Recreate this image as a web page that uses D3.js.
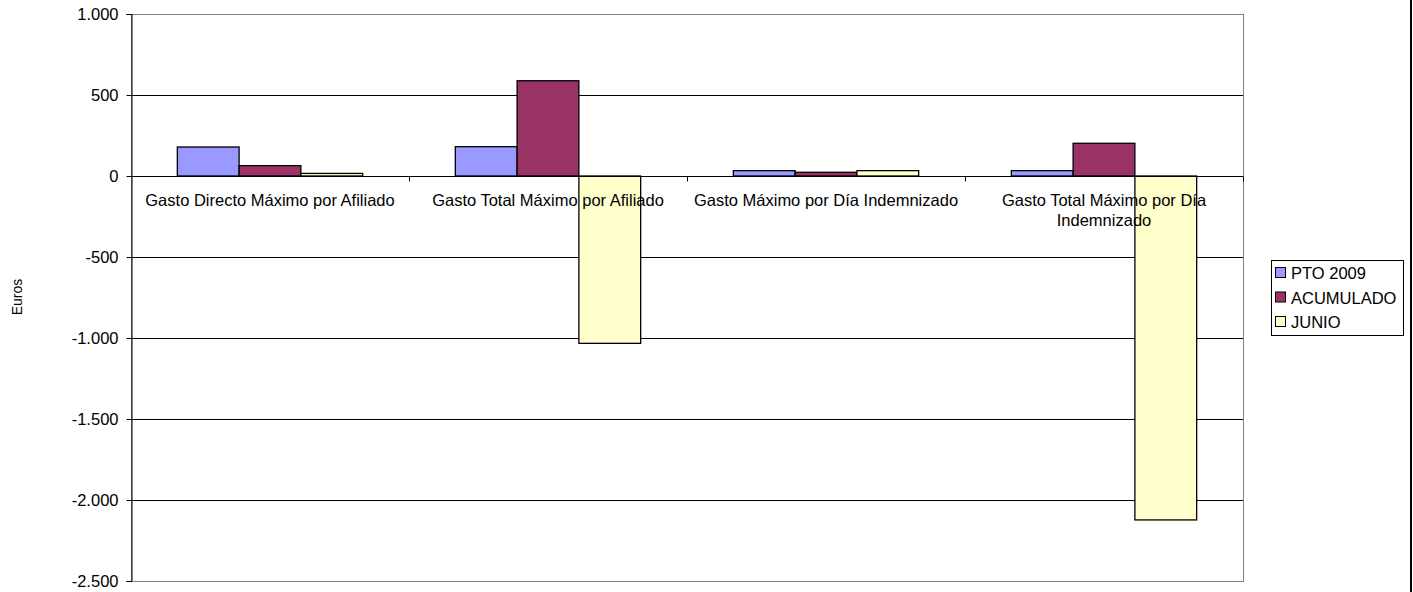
<!DOCTYPE html>
<html><head><meta charset="utf-8">
<script src="https://cdn.jsdelivr.net/npm/d3@7"></script>
<style>body{margin:0;background:#fff}svg{display:block}text{font-family:"Liberation Sans",Arial,sans-serif;fill:#000}</style>
</head><body><svg id="c" width="1413" height="592"></svg>
<script>
const categories = [["Gasto Directo Máximo por Afiliado"],["Gasto Total Máximo por Afiliado"],["Gasto Máximo por Día Indemnizado"],["Gasto Total Máximo por Día","Indemnizado"]];
const seriesNames = ["PTO 2009","ACUMULADO","JUNIO"];
const pto2009 = [179, 181, 33, 33];
const acumulado = [64, 588, 23, 202];
const junio = [16, -1033, 33, -2123];
const yTicks = [1000, 500, 0, -500, -1000, -1500, -2000, -2500];
const colors = ["#9999FF","#993366","#FFFFCC"];
const series = [pto2009, acumulado, junio];

const FONT = "'Liberation Sans', Arial, sans-serif";
const FS = 16.5;
const svg = d3.select("#c");
const L = 131, R = 1243, T = 14, B = 581;
const y = d3.scaleLinear().domain([-2500, 1000]).range([B, T]);
const x0 = d3.scaleBand().domain(d3.range(categories.length)).range([L, R]).paddingInner(0).paddingOuter(0);
const bw = x0.bandwidth() / 4.5;
const loc = d3.formatLocale({decimal: ",", thousands: ".", grouping: [3], currency: ["", "€"], minus: "-"});
const fmt = loc.format(",d");

// gridlines
svg.append("g").selectAll("line").data(yTicks).join("line")
  .attr("x1", L).attr("x2", R).attr("y1", d => Math.round(y(d)) + 0.5).attr("y2", d => Math.round(y(d)) + 0.5)
  .attr("stroke", "#000").attr("stroke-width", 1);

// plot border
svg.append("rect").attr("x", L + 0.5).attr("y", T + 0.5).attr("width", R - L).attr("height", B - T)
  .attr("fill", "none").attr("stroke", "#808080");

// bars
const gb = svg.append("g");
series.forEach((s, si) => {
  gb.selectAll(null).data(s).join("rect")
    .attr("x", (d, i) => x0(i) + bw * 0.75 + si * bw)
    .attr("width", bw)
    .attr("y", d => y(Math.max(0, d)))
    .attr("height", d => Math.abs(y(d) - y(0)))
    .attr("fill", colors[si]).attr("stroke", "#000").attr("stroke-width", 1.3);
});

// y axis
const yAxis = d3.axisLeft(y).tickValues(yTicks).tickFormat(d => fmt(d)).tickSize(5).tickPadding(8);
const ga = svg.append("g").attr("transform", `translate(${L + 0.5},0)`).call(yAxis);
ga.attr("font-family", FONT).attr("font-size", FS);
ga.select(".domain").attr("stroke", "#000");
ga.selectAll(".tick line").attr("stroke", "#000");
ga.selectAll(".tick text").attr("fill", "#000").attr("dy", "0.35em");

// zero axis line & category ticks
const z = Math.round(y(0)) + 0.5;
svg.append("line").attr("x1", L).attr("x2", R).attr("y1", z).attr("y2", z).attr("stroke", "#000");
svg.append("g").selectAll("line").data(d3.range(1, categories.length + 1)).join("line")
  .attr("x1", i => x0.step() * i + L + 0.5).attr("x2", i => x0.step() * i + L + 0.5)
  .attr("y1", z).attr("y2", z + 5).attr("stroke", "#000");

// category labels
const gl = svg.append("g");
categories.forEach((lines, i) => {
  const cx = x0(i) + x0.bandwidth() / 2;
  const t = gl.append("text").attr("text-anchor", "middle").attr("font-size", FS)
    .attr("x", cx).attr("y", 206);
  lines.forEach((ln, k) => t.append("tspan").attr("x", cx).attr("dy", k ? 20 : 0).text(ln));
});

// y title
svg.append("text").attr("transform", "translate(22,297) rotate(-90)").attr("text-anchor", "middle")
  .attr("font-size", 14).text("Euros");

// legend
const lg = svg.append("g");
lg.append("rect").attr("x", 1271.5).attr("y", 260.5).attr("width", 132).attr("height", 75)
  .attr("fill", "#fff").attr("stroke", "#000");
seriesNames.forEach((n, i) => {
  const cy = 273 + i * 24.5;
  lg.append("rect").attr("x", 1275.5).attr("y", cy - 5.5).attr("width", 10).attr("height", 10)
    .attr("fill", colors[i]).attr("stroke", "#000");
  lg.append("text").attr("x", 1291).attr("y", cy + 6).attr("font-size", FS).text(n);
});

// outer right border
svg.append("line").attr("x1", 1411).attr("x2", 1411).attr("y1", 0).attr("y2", 592).attr("stroke", "#000").attr("stroke-width", 2);
</script></body></html>
